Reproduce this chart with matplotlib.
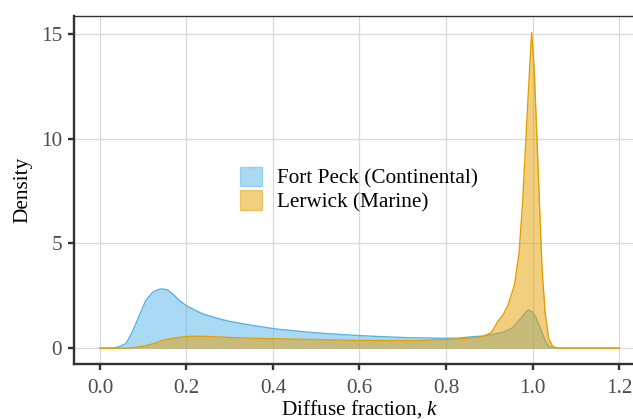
"""Density of diffuse fraction k: Fort Peck vs Lerwick."""

import matplotlib
matplotlib.use('Agg')
import matplotlib.pyplot as plt
from matplotlib.patches import Patch

plt.rcParams['font.family'] = ['Liberation Serif', 'DejaVu Serif']
plt.rcParams['mathtext.fontset'] = 'custom'
plt.rcParams['mathtext.it'] = 'Liberation Serif:italic'
plt.rcParams['mathtext.rm'] = 'Liberation Serif'

# Fort Peck (Continental) density
fp_k = [0.0, 0.03, 0.037, 0.045, 0.06, 0.075, 0.091, 0.106, 0.122, 0.135,
        0.145, 0.157, 0.168, 0.185, 0.199, 0.218, 0.237, 0.27, 0.299, 0.34,
        0.376, 0.41, 0.453, 0.5, 0.55, 0.60, 0.65, 0.70, 0.736, 0.77,
        0.80, 0.83, 0.858, 0.884, 0.91, 0.935, 0.952, 0.966, 0.975, 0.981,
        0.990, 1.0, 1.008, 1.012, 1.018, 1.024, 1.03, 1.035, 1.041, 1.047,
        1.055, 1.1, 1.2]
fp_d = [0.0, 0.0, 0.03, 0.08, 0.22, 0.78, 1.56, 2.28, 2.67, 2.80,
        2.83, 2.77, 2.59, 2.25, 2.04, 1.83, 1.64, 1.43, 1.28, 1.13,
        1.01, 0.91, 0.82, 0.73, 0.66, 0.60, 0.55, 0.51, 0.49, 0.48,
        0.47, 0.48, 0.54, 0.58, 0.66, 0.78, 0.95, 1.25, 1.47, 1.64,
        1.83, 1.72, 1.45, 1.25, 0.95, 0.62, 0.35, 0.14, 0.06, 0.02,
        0.0, 0.0, 0.0]

# Lerwick (Marine) density
lw_k = [0.0, 0.06, 0.079, 0.1, 0.125, 0.145, 0.165, 0.183, 0.205, 0.23,
        0.26, 0.299, 0.34, 0.376, 0.453, 0.5, 0.6, 0.7, 0.736, 0.8,
        0.85, 0.884, 0.905, 0.919, 0.932, 0.943, 0.958, 0.969, 0.977, 0.985,
        0.993, 0.998, 1.004, 1.010, 1.016, 1.022, 1.029, 1.037, 1.047, 1.06,
        1.1, 1.2]
lw_d = [0.0, 0.0, 0.03, 0.09, 0.22, 0.38, 0.46, 0.52, 0.56, 0.57,
        0.55, 0.51, 0.48, 0.46, 0.43, 0.41, 0.37, 0.36, 0.36, 0.41,
        0.47, 0.55, 0.75, 1.25, 1.6, 2.04, 2.99, 4.57, 6.94, 10.1,
        13.26, 15.07, 13.26, 10.1, 6.94, 3.78, 1.72, 0.46, 0.07, 0.0,
        0.0, 0.0]

labels = ['Fort Peck (Continental)', 'Lerwick (Marine)']
colors = ['#56B4E9', '#E69F00']
x_ticks = [0.0, 0.2, 0.4, 0.6, 0.8, 1.0, 1.2]
y_ticks = [0, 5, 10, 15]

FS = 15.3

fig = plt.figure(figsize=(6.33, 4.19), dpi=100)
ax = fig.add_axes([74 / 633, 55 / 419, 571 / 633, 348 / 419])

for k, d, c in [(fp_k, fp_d, colors[0]), (lw_k, lw_d, colors[1])]:
    ax.fill_between(k, d, 0, color=c, alpha=0.5, linewidth=0, zorder=2)
    ax.plot(k, d, color=c, linewidth=1.0, zorder=2)

ax.set_xlim(-0.06, 1.26)
ax.set_ylim(-0.755, 15.85)
ax.set_xticks(x_ticks)
ax.set_xticklabels([f'{t:.1f}' for t in x_ticks])
ax.set_yticks(y_ticks)
ax.grid(True, color='#d9d9d9', linewidth=0.9, zorder=0)
ax.set_axisbelow(True)

for side in ['left', 'bottom']:
    ax.spines[side].set_linewidth(1.7)
    ax.spines[side].set_color('#333333')
for side in ['top', 'right']:
    ax.spines[side].set_linewidth(1.0)
    ax.spines[side].set_color('#333333')

ax.tick_params(axis='both', direction='out', length=4.5, width=1.7,
               color='#333333', labelcolor='#4D4D4D', labelsize=FS)
ax.tick_params(axis='x', pad=6)
ax.tick_params(axis='y', pad=4)

ax.set_xlabel('Diffuse fraction, $k$', fontsize=FS, color='black', labelpad=0.5)
ax.set_ylabel('Density', fontsize=FS, color='black', labelpad=6)

handles = [Patch(facecolor=c, edgecolor=c, alpha=0.5, linewidth=1.0) for c in colors]
leg = ax.legend(handles, labels, loc='upper left',
                bbox_to_anchor=(240 / 633, 1 - 167 / 419),
                bbox_transform=fig.transFigure, frameon=False, fontsize=FS,
                handlelength=1.05, handleheight=1.0, handletextpad=0.7,
                labelspacing=0.08, borderpad=0, borderaxespad=0)
for p in leg.get_patches():
    p.set_edgecolor(p.get_facecolor()[:3])

fig.savefig('out.png', dpi=100)
